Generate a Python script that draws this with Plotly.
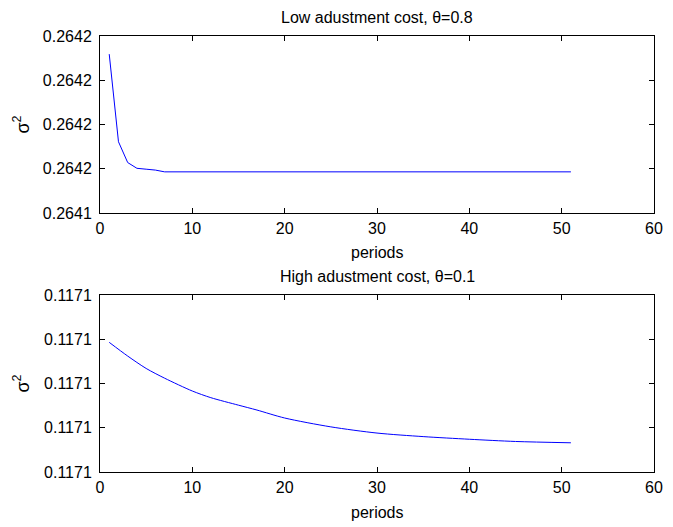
import plotly.graph_objects as go

# ---- data ----
periods_low = [1, 2, 3, 4, 5, 6, 7, 10, 20, 30, 40, 51]
sigma2_low = [0.2641759, 0.2641561, 0.2641514, 0.2641501, 0.2641499, 0.2641497,
              0.2641493, 0.2641493, 0.2641493, 0.2641493, 0.2641493, 0.2641493]

periods_high = [1, 3, 5, 7, 10, 12, 15, 17, 20, 25, 30, 35, 40, 45, 51]
sigma2_high = [0.11710293, 0.11710262, 0.11710234, 0.11710212, 0.11710183, 0.11710168,
               0.11710151, 0.11710140, 0.11710122, 0.11710102, 0.11710088, 0.11710080,
               0.11710074, 0.11710069, 0.11710066]

x_ticks = [0, 10, 20, 30, 40, 50, 60]
low_ytick_vals = [0.26414, 0.26415, 0.26416, 0.26417, 0.26418]
low_ytick_text = ["0.2641", "0.2642", "0.2642", "0.2642", "0.2642"]
high_ytick_vals = [0.117100, 0.117101, 0.117102, 0.117103, 0.117104]
high_ytick_text = ["0.1171", "0.1171", "0.1171", "0.1171", "0.1171"]

title_low = "Low adustment cost, θ=0.8"
title_high = "High adustment cost, θ=0.1"
x_label = "periods"
y_label = "σ<sup>2</sup>"

FONT = "Liberation Sans, Arial, sans-serif"
FS = 16

fig = go.Figure()
fig.add_trace(go.Scatter(x=periods_low, y=sigma2_low, mode="lines",
                         line=dict(color="#0000ff", width=1), xaxis="x", yaxis="y",
                         showlegend=False))
fig.add_trace(go.Scatter(x=periods_high, y=sigma2_high, mode="lines",
                         line=dict(color="#0000ff", width=1, shape="spline", smoothing=0.8),
                         xaxis="x2", yaxis="y2", showlegend=False))

axis_common = dict(showline=True, linecolor="black", linewidth=1, mirror="ticks",
                   ticks="inside", ticklen=5, tickcolor="black", showgrid=False,
                   zeroline=False, ticklabeloverflow="allow",
                   tickfont=dict(family=FONT, size=FS, color="black"))

top_dom = [259 / 436, 1.0]
bot_dom = [0.0, 177 / 436]

fig.update_layout(
    width=673, height=527,
    margin=dict(l=100, r=10, t=36, b=55),
    paper_bgcolor="white", plot_bgcolor="white",
    font=dict(family=FONT, size=FS, color="black"),
    xaxis=dict(domain=[0, 1], anchor="y", range=[0, 60], tickvals=x_ticks,
               ticklabelstandoff=1, **axis_common),
    yaxis=dict(domain=top_dom, anchor="x", range=[0.26414, 0.26418],
               tickvals=low_ytick_vals, ticktext=low_ytick_text,
               ticklabelstandoff=4, **axis_common),
    xaxis2=dict(domain=[0, 1], anchor="y2", range=[0, 60], tickvals=x_ticks,
                ticklabelstandoff=1, **axis_common),
    yaxis2=dict(domain=bot_dom, anchor="x2", range=[0.117100, 0.117104],
                tickvals=high_ytick_vals, ticktext=high_ytick_text,
                ticklabelstandoff=4, **axis_common),
)

ann = []
ann.append(dict(text=title_low, xref="paper", yref="paper", x=0.5, y=1.0,
                yshift=19, xanchor="center", yanchor="middle", showarrow=False))
ann.append(dict(text=title_high, xref="paper", yref="paper", x=0.5, y=bot_dom[1],
                yshift=19, xanchor="center", yanchor="middle", showarrow=False))
ann.append(dict(text=x_label, xref="paper", yref="paper", x=0.5, y=top_dom[0],
                yshift=-40, xanchor="center", yanchor="middle", showarrow=False))
ann.append(dict(text=x_label, xref="paper", yref="paper", x=0.5, y=0,
                yshift=-40, xanchor="center", yanchor="middle", showarrow=False))
for dom in (top_dom, bot_dom):
    ann.append(dict(text=y_label, xref="paper", yref="paper", x=0,
                    y=(dom[0] + dom[1]) / 2, xshift=-78, textangle=-90,
                    xanchor="center", yanchor="middle", showarrow=False,
                    font=dict(size=18)))
fig.update_layout(annotations=ann)

fig.write_html("out.html", config={"displayModeBar": False},
               post_script="document.body.style.margin='0';document.body.style.overflow='hidden';")
